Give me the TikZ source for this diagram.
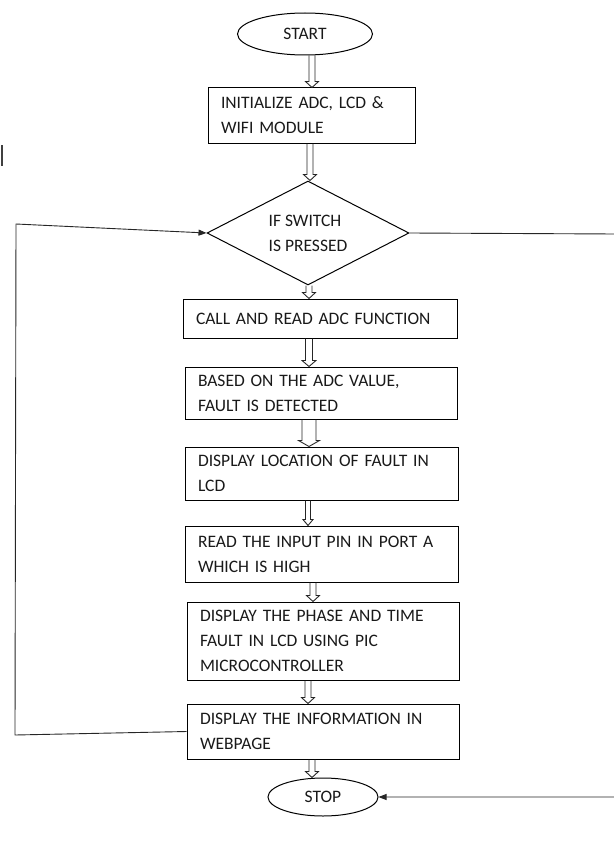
\documentclass[tikz,border=0pt]{standalone}
\usepackage{fontspec}
\setmainfont{Carlito}
\usetikzlibrary{shapes.geometric,arrows.meta,calc}
\newcommand\blkarrow[5]{% from, to, x, half shaft, half head
  \draw[blk] let \p1=(#1.south), \p2=(#2.north) in
    (#3pt-#4pt,\y1) -- (#3pt-#4pt,\y2+6pt) -- (#3pt-#5pt,\y2+6pt) -- (#3pt,\y2)
    -- (#3pt+#5pt,\y2+6pt) -- (#3pt+#4pt,\y2+6pt) -- (#3pt+#4pt,\y1);}
\begin{document}
\begin{tikzpicture}[x=1pt,y=-1pt,
  txt/.style={font=\fontsize{17.5}{25}\selectfont,text=black!90},
  box/.style={txt,draw,line width=1pt,rectangle,inner xsep=13pt,inner ysep=0pt,align=left},
  term/.style={txt,draw,line width=1pt,ellipse,inner sep=0pt},
  blk/.style={line width=0.9pt,black!85},
  conn/.style={line width=0.9pt,black!85},
  tip/.style={-{Triangle[length=8pt,width=6pt]}}]
\useasboundingbox (0,0) rectangle (613,848);
\node[term,minimum width=135pt,minimum height=42pt] (start) at (305,34) {START};
\node[box,text width=181pt,minimum height=55pt] (init) at (311.5,115.5) {INITIALIZE ADC, LCD \&\\WIFI MODULE};
\node[txt,diamond,draw,line width=1pt,aspect=2,minimum width=202pt,minimum height=104pt,inner sep=0pt,align=left] (dec) at (308,233) {IF SWITCH\\IS PRESSED};
\node[box,text width=248pt,minimum height=39pt] (call) at (320,318.5) {CALL AND READ ADC FUNCTION};
\node[box,text width=246pt,minimum height=52pt] (based) at (321,393) {BASED ON THE ADC VALUE,\\FAULT IS DETECTED};
\node[box,text width=247pt,minimum height=53pt] (loc) at (321.5,473.5) {DISPLAY LOCATION OF FAULT IN\\LCD};
\node[box,text width=247pt,minimum height=56pt] (read) at (321.5,554) {READ THE INPUT PIN IN PORT A\\WHICH IS HIGH};
\node[box,text width=246pt,minimum height=78pt] (phase) at (323,641) {DISPLAY THE PHASE AND TIME\\FAULT IN LCD USING PIC\\MICROCONTROLLER};
\node[box,text width=246pt,minimum height=55pt] (info) at (323,731.5) {DISPLAY THE INFORMATION IN\\WEBPAGE};
\node[term,minimum width=110pt,minimum height=38pt] (stop) at (323,797) {STOP};
\blkarrow{start}{init}{312}{3}{6.5}
\blkarrow{init}{dec}{310}{3}{6.5}
\blkarrow{dec}{call}{309}{3}{6.5}
\blkarrow{call}{based}{309}{3.5}{7}
\blkarrow{based}{loc}{309}{7}{10.5}
\blkarrow{loc}{read}{308}{2.5}{5}
\blkarrow{read}{phase}{313}{3}{6.5}
\blkarrow{phase}{info}{308}{3}{6.5}
\blkarrow{info}{stop}{312}{3}{6.5}
\coordinate (lb) at (15,735);
\coordinate (lt) at (16,224);
\coordinate (rt) at (616,234);
\coordinate (rb) at (616,797);
\draw[conn,tip] (info.west) -- (lb) -- (lt) -- (dec.west);
\draw[conn,tip] (dec.east) -- (rt) -- (rb) -- (stop.east);
\draw[line width=2.5pt,black!75] (2,145) -- (2,166);
\end{tikzpicture}
\end{document}
